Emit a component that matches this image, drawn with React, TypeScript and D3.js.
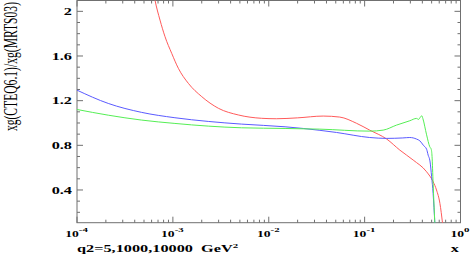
import React from "react";
import * as d3 from "d3";

// ---- data ----
const redX = [6.2e-4, 6.51e-4, 7.34e-4, 8.28e-4, 9.72e-4, 1.14e-3, 1.45e-3, 2.0e-3, 2.98e-3, 4.81e-3, 8.44e-3, 0.012, 0.02, 0.037, 0.055, 0.082, 0.113, 0.17, 0.233, 0.321, 0.443, 0.519, 0.562, 0.61, 0.65];
const redY = [2.2, 2.1, 1.922, 1.773, 1.624, 1.49, 1.355, 1.236, 1.132, 1.072, 1.042, 1.038, 1.046, 1.062, 1.053, 0.998, 0.936, 0.856, 0.757, 0.668, 0.563, 0.473, 0.40, 0.28, 0.1];

const blueX = [1e-4, 2.12e-4, 4.72e-4, 1.05e-3, 2.34e-3, 5.2e-3, 0.0148, 0.0229, 0.051, 0.113, 0.17, 0.25, 0.296, 0.348, 0.377, 0.41, 0.443, 0.46, 0.48, 0.50, 0.518, 0.54];
const blueY = [1.294, 1.175, 1.095, 1.047, 1.014, 0.99, 0.966, 0.951, 0.915, 0.87, 0.862, 0.866, 0.87, 0.856, 0.84, 0.80, 0.765, 0.712, 0.66, 0.518, 0.369, 0.1];

const greenX = [1e-4, 2.12e-4, 4.72e-4, 1.05e-3, 2.34e-3, 5.2e-3, 0.0148, 0.034, 0.113, 0.156, 0.215, 0.296, 0.348, 0.365, 0.38, 0.395, 0.405, 0.443, 0.478, 0.495, 0.505, 0.518, 0.54];
const greenY = [1.121, 1.07, 1.026, 0.996, 0.972, 0.957, 0.951, 0.945, 0.927, 0.936, 0.981, 1.02, 1.041, 1.032, 1.05, 1.065, 1.04, 0.894, 0.787, 0.765, 0.70, 0.459, 0.1];

const yTickValues = [0.4, 0.8, 1.2, 1.6, 2];
const yTickLabels = ["0.4", "0.8", "1.2", "1.6", "2"];
const xDecades = [1e-4, 1e-3, 1e-2, 1e-1, 1];
const xExponents = ["-4", "-3", "-2", "-1", "0"];

const yTitle = "xg(CTEQ6.1)/xg(MRTS03)";
const xNote = "q2=5,1000,10000  GeV";
const xTitle = "x";

const W = 471, H = 255;
const L = 77, R = 460.5, T = 0.5, B = 222.7;
const SX = 1.55;
const FRAME = "#707070";

export default function App() {
  const x = d3.scaleLog().domain([1e-4, 1]).range([L, R]);
  const y = d3.scaleLinear().domain([0.107, 2.097]).range([B, T]);
  const line = d3
    .line<[number, number]>()
    .x((d) => x(d[0]))
    .y((d) => y(d[1]))
    .curve(d3.curveMonotoneX);
  const series = [
    { xs: redX, ys: redY, c: "#ff5a5a" },
    { xs: blueX, ys: blueY, c: "#5a5aff" },
    { xs: greenX, ys: greenY, c: "#55ee55" },
  ];

  const yMinor = d3.range(2, 21).map((v) => v / 10).filter((v) => !yTickValues.some((t) => Math.abs(t - v) < 1e-9));
  const xMinor: number[] = [];
  for (let e = -4; e < 0; e++) for (let k = 2; k <= 9; k++) xMinor.push(k * Math.pow(10, e));

  const font = "'Liberation Serif', 'DejaVu Serif', serif";

  return (
    <svg width={W} height={H} style={{ position: "absolute", left: 0, top: 0, background: "#fff" }}>
      <defs>
        <clipPath id="plot">
          <rect x={L} y={T} width={R - L} height={B - T} />
        </clipPath>
      </defs>
      <rect x={0} y={0} width={W} height={H} fill="#fff" />
      {/* frame */}
      <rect x={L} y={T} width={R - L} height={B - T} fill="none" stroke={FRAME} strokeWidth={1} />
      {/* y ticks */}
      {yTickValues.map((v) => (
        <g key={"yt" + v}>
          <line x1={L} x2={L + 6} y1={y(v)} y2={y(v)} stroke={FRAME} />
          <line x1={R} x2={R - 6} y1={y(v)} y2={y(v)} stroke={FRAME} />
        </g>
      ))}
      {yMinor.map((v) => (
        <g key={"ym" + v}>
          <line x1={L} x2={L + 3} y1={y(v)} y2={y(v)} stroke={FRAME} />
          <line x1={R} x2={R - 3} y1={y(v)} y2={y(v)} stroke={FRAME} />
        </g>
      ))}
      {/* x ticks */}
      {xDecades.map((v) => (
        <g key={"xt" + v}>
          <line x1={x(v)} x2={x(v)} y1={B} y2={B - 6} stroke={FRAME} />
          <line x1={x(v)} x2={x(v)} y1={T} y2={T + 6} stroke={FRAME} />
        </g>
      ))}
      {xMinor.map((v) => (
        <g key={"xm" + v}>
          <line x1={x(v)} x2={x(v)} y1={B} y2={B - 3} stroke={FRAME} />
          <line x1={x(v)} x2={x(v)} y1={T} y2={T + 3} stroke={FRAME} />
        </g>
      ))}
      {/* curves */}
      <g clipPath="url(#plot)">
        {series.map((s, i) => (
          <path
            key={i}
            d={line(s.xs.map((xv, j) => [xv, s.ys[j]] as [number, number])) || ""}
            fill="none"
            stroke={s.c}
            strokeWidth={1}
          />
        ))}
      </g>
      {/* y tick labels */}
      {yTickValues.map((v, i) => (
        <g key={"yl" + v} transform={`translate(72,${y(v) + 3.6}) scale(${SX},1)`}>
          <text textAnchor="end" fontFamily={font} fontWeight="bold" fontSize={10.5} fill="#000">
            {yTickLabels[i]}
          </text>
        </g>
      ))}
      {/* x tick labels */}
      {xDecades.map((v, i) => (
        <g key={"xl" + v} transform={`translate(${x(v) - 0.5},236.5) scale(${SX},1)`}>
          <text textAnchor="middle" fontFamily={font} fontWeight="bold" fontSize={8.8} fill="#000">
            10
            <tspan fontSize={7} dy={-4.2}>
              {xExponents[i]}
            </tspan>
          </text>
        </g>
      ))}
      {/* x note */}
      <g transform={`translate(${L},252) scale(${SX},1)`}>
        <text fontFamily={font} fontWeight="bold" fontSize={10.5} fill="#000" xmlSpace="preserve" style={{ whiteSpace: "pre" }}>
          {xNote}
          <tspan fontSize={7} dy={-4.5}>2</tspan>
        </text>
      </g>
      {/* x title */}
      <g transform={`translate(459,252) scale(${SX},1)`}>
        <text textAnchor="end" fontFamily={font} fontWeight="bold" fontSize={10.5} fill="#000">
          {xTitle}
        </text>
      </g>
      {/* y title */}
      <g transform={`translate(17,2) scale(${SX},1) rotate(-90)`}>
        <text textAnchor="end" fontFamily={font} fontSize={11.6} fill="#000">
          {yTitle}
        </text>
      </g>
    </svg>
  );
}
